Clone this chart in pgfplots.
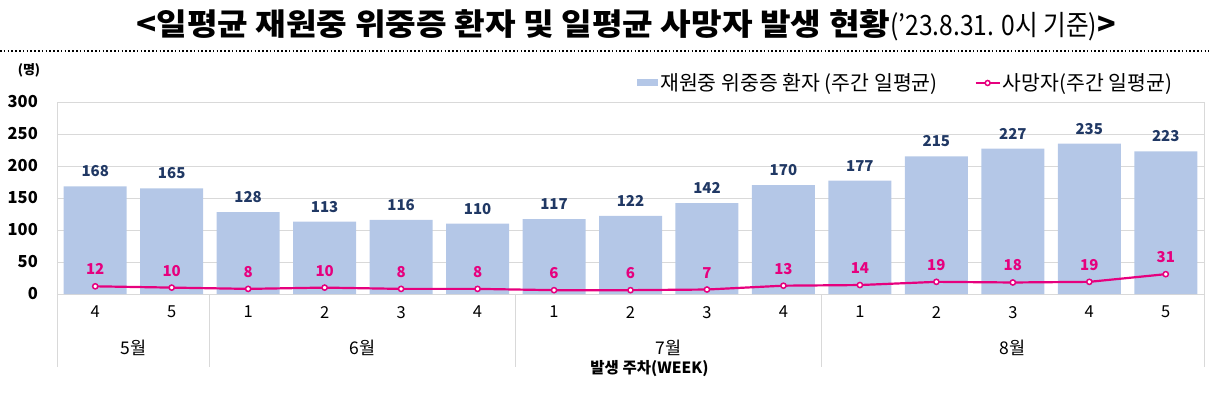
\documentclass[border=0pt]{standalone}
\usepackage{fontspec}
\setmainfont{Noto Sans CJK KR}
\usepackage{pgfplots}
\pgfplotsset{compat=1.18}

\definecolor{barblue}{HTML}{B4C7E7}
\definecolor{linepink}{HTML}{E6007E}
\definecolor{navy}{HTML}{203864}
\definecolor{gridgray}{HTML}{D9D9D9}
\newcommand{\fs}[1]{\fontsize{#1}{#1}\selectfont}

\begin{document}
\begin{tikzpicture}[x=1pt,y=1pt]
\path[use as bounding box] (0,0) rectangle (1209,397);
\coordinate (A) at (57,103);
\node[anchor=west, inner sep=0pt] at (136,372) {\fs{30.5}\bfseries\scalebox{1.09}[1]{<일평균 재원중 위중증 환자 및 일평균 사망자 발생 현황}{\mdseries\fs{28}\scalebox{0.88}[1]{('23.8.31. 0시 기준)}}>};
\draw[line width=2pt, dash pattern=on 1.6pt off 2.2pt] (0,346) -- (1209,346);
\node[inner sep=0pt, font=\fs{13}\bfseries] at (29,327) {(명)};

\begin{axis}[
  at={(A)}, anchor=south west, scale only axis,
  width=1147pt, height=192pt,
  xmin=-0.5, xmax=14.5, ymin=0, ymax=300,
  ytick={0,50,...,300},
  xtick={0,...,14},
  xticklabels={4,5,1,2,3,4,1,2,3,4,1,2,3,4,5},
  major tick length=0pt,
  ymajorgrids, grid style={gridgray, line width=1pt},
  axis line style={gridgray, line width=1pt},
  clip=false,
  /pgf/number format/assume math mode=true,
  yticklabel style={font=\fs{16.5}\bfseries, anchor=east, inner sep=0pt, xshift=-19pt},
  xticklabel style={font=\fs{16.5}, anchor=north, inner sep=0pt, yshift=-12pt},
  legend style={at={(rel axis cs:0.5057,1.099)}, anchor=west, draw=none, fill=none,
    font=\fs{20.5}, legend columns=2, inner sep=0pt,
    nodes={inner sep=2pt},
    /tikz/every even column/.append style={column sep=35pt}},
  legend cell align=left,
]
\addplot[ybar, bar width=63pt, fill=barblue, draw=none,
  nodes near coords,
  every node near coord/.append style={font=\fs{15}\bfseries, color=navy, anchor=base, inner sep=0pt, yshift=9.5pt},
  legend image code/.code={\fill[barblue] (0pt,-3.5pt) rectangle (21pt,3.5pt);}]
  coordinates {(0,168) (1,165) (2,128) (3,113) (4,116) (5,110) (6,117) (7,122) (8,142) (9,170) (10,177) (11,215) (12,227) (13,235) (14,223)};
\addlegendentry{재원중 위중증 환자 (주간 일평균)}
\addplot[linepink, line width=2.2pt, mark=*, mark size=2.6pt,
  mark options={fill=white, draw=linepink, line width=1.5pt},
  nodes near coords,
  every node near coord/.append style={font=\fs{15}\bfseries, color=linepink, anchor=base, inner sep=0pt, yshift=11.5pt},
  legend image code/.code={\draw[linepink, line width=2pt] (0pt,0pt) -- (24pt,0pt); \draw[linepink, line width=1.5pt, fill=white] (12pt,0pt) circle (2.5pt);}]
  coordinates {(0,12) (1,10) (2,8) (3,10) (4,8) (5,8) (6,6) (7,6) (8,7) (9,13) (10,14) (11,19) (12,18) (13,19) (14,31)};
\addlegendentry{사망자(주간 일평균)}

\foreach \s in {-0.5,1.5,5.5,9.5,14.5} {
  \edef\temp{\noexpand\draw[gridgray, line width=1pt] (axis cs:\s,0) -- (axis cs:\s,-114);}
  \temp
}
\node[font=\fs{17.5}] at (axis cs:0.5,-84.4) {5월};
\node[font=\fs{17.5}] at (axis cs:3.5,-84.4) {6월};
\node[font=\fs{17.5}] at (axis cs:7.5,-84.4) {7월};
\node[font=\fs{17.5}] at (axis cs:12,-84.4) {8월};
\node[font=\fs{15.5}\bfseries] at (axis cs:7.248,-117) {발생 주차(WEEK)};
\end{axis}
\end{tikzpicture}
\end{document}
